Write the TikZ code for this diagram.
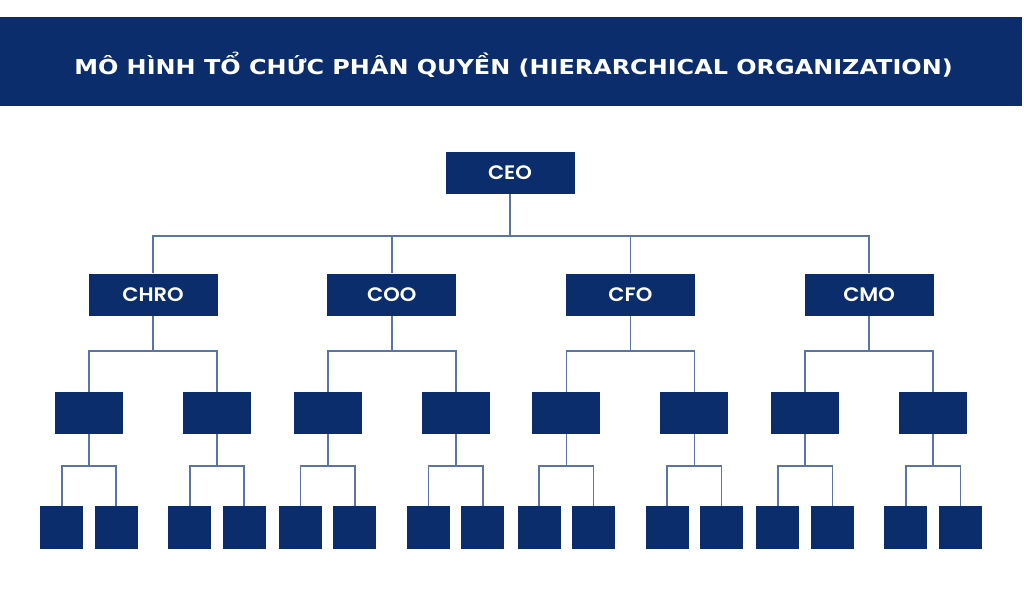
\documentclass[tikz,border=0pt]{standalone}
\usepackage{fontspec}
\setmainfont{DejaVu Sans}
\newfontfamily\labfont{Poppins SemiBold}
\definecolor{navy}{HTML}{0B2D6B}
\definecolor{linec}{HTML}{5B74A5}
\newcommand{\lab}[1]{\scalebox{1.08}[1]{#1}}
\begin{document}
\begin{tikzpicture}[x=1pt,y=-1pt,
  titlebox/.style={fill=navy, inner sep=0pt, minimum width=1022pt, minimum height=89pt, anchor=north west, text=white},
  headbox/.style={fill=navy, inner sep=0pt, minimum width=129pt, minimum height=42pt, text=white, font=\labfont\fontsize{19.5}{22}\selectfont},
  midbox/.style={fill=navy, inner sep=0pt, minimum width=68pt, minimum height=42pt},
  leafbox/.style={fill=navy, inner sep=0pt, minimum width=43pt, minimum height=43pt},
  conn/.style={draw=linec, line width=1.6pt}]
\useasboundingbox (0,0) rectangle (1024,594);
\node[titlebox] (title) at (0,17) {};
\node[text=white, font=\bfseries\fontsize{20.5}{24}\selectfont, xscale=1.167] (titletext) at (513.5,65) {MÔ HÌNH TỔ CHỨC PHÂN QUYỀN (HIERARCHICAL ORGANIZATION)};
\node[headbox] (ceo) at (510,173) {\lab{CEO}};
\coordinate (b0) at (510,235.7);
\draw[conn] (ceo.south) -- (b0);
\foreach \i/\txt in {0/CHRO,1/COO,2/CFO,3/CMO}{
  \pgfmathsetmacro{\cx}{153+238.7*\i}
  \node[headbox] (h\i) at (\cx,294.5) {\lab{\txt}};
  \draw[conn] (b0) -| (h\i.north);
  \coordinate (bh\i) at (\cx,350.7);
  \draw[conn] (h\i.south) -- (bh\i);
  \foreach \j/\sj in {0/-1,1/1}{
    \pgfmathsetmacro{\mx}{\cx+64*\sj}
    \node[midbox] (m\i\j) at (\mx,413) {};
    \draw[conn] (bh\i) -| (m\i\j.north);
    \coordinate (bm\i\j) at (\mx,465.7);
    \draw[conn] (m\i\j.south) -- (bm\i\j);
    \foreach \k/\sk in {0/-1,1/1}{
      \pgfmathsetmacro{\lx}{\mx+27.2*\sk}
      \node[leafbox] (l\i\j\k) at (\lx,527.5) {};
      \draw[conn] (bm\i\j) -| (l\i\j\k.north);
    }
  }
}
\end{tikzpicture}
\end{document}
